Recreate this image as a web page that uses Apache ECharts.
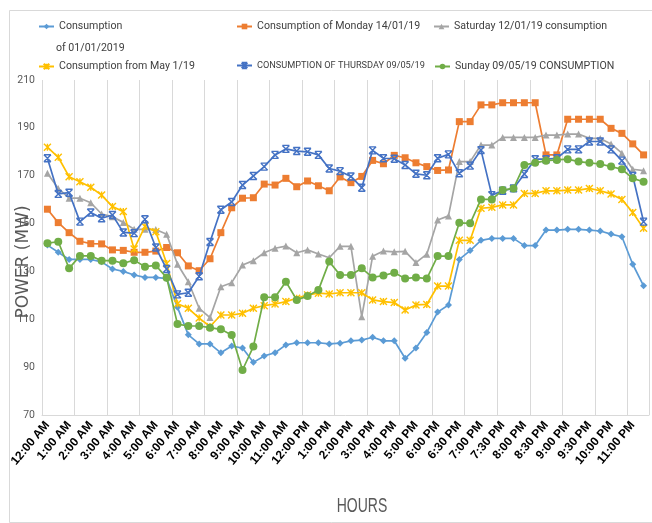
<!DOCTYPE html>
<html>
<head>
<meta charset="utf-8">
<script src="https://cdn.jsdelivr.net/npm/echarts@6/dist/echarts.min.js"></script>
<style>
html,body{margin:0;padding:0;background:#fff;}
#chart{width:652px;height:523px;}
</style>
</head>
<body>
<div id="chart"></div>
<script>
// ---- data ----
const categories = [
  '12:00 AM','12:30 AM','1:00 AM','1:30 AM','2:00 AM','2:30 AM','3:00 AM','3:30 AM',
  '4:00 AM','4:30 AM','5:00 AM','5:30 AM','6:00 AM','6:30 AM','7:00 AM','7:30 AM',
  '8:00 AM','8:30 AM','9:00 AM','9:30 AM','10:00 AM','10:30 AM','11:00 AM','11:30 AM',
  '12:00 PM','12:30 PM','1:00 PM','1:30 PM','2:00 PM','2:30 PM','3:00 PM','3:30 PM',
  '4:00 PM','4:30 PM','5:00 PM','5:30 PM','6:00 PM','6:15 PM','6:30 PM','6:45 PM',
  '7:00 PM','7:15 PM','7:30 PM','7:45 PM','8:00 PM','8:15 PM','8:30 PM','8:45 PM',
  '9:00 PM','9:15 PM','9:30 PM','9:45 PM','10:00 PM','10:30 PM','11:00 PM','11:30 PM'
];
const seriesNames = [
  'Consumption of 01/01/2019',
  'Consumption of Monday 14/01/19',
  'Saturday 12/01/19 consumption',
  'Consumption from May 1/19',
  'CONSUMPTION OF THURSDAY 09/05/19',
  'Sunday 09/05/19 CONSUMPTION'
];
const jan01 = [141,138,135,135,135,134,131,130,128.5,127.5,127.5,127,
  115,103.5,99.7,99.7,96,98.8,98,92,94.7,96,99.3,100.2,
  100.2,100.2,99.7,100,101,101.3,102.5,101,101,93.7,98,104.5,
  113,116,135,138.7,143,143.8,143.8,143.8,140.8,140.8,147.3,147.3,
  147.6,147.6,147.3,146.9,145.6,144.5,133,124];
const mon1401 = [156,150.4,146.2,142.6,141.6,141.5,139,138.8,138,138,138.5,140,
  137.8,132.3,130.3,135.3,146.2,156.6,160.6,160.8,166.5,166.1,168.9,165.4,
  167.8,165.8,163.7,169.5,167.1,169.7,176.4,175,178.5,177.5,175.4,173.8,
  172.2,172.4,192.6,192.6,199.6,199.6,200.5,200.5,200.5,200.5,178.7,178.7,
  193.6,193.6,193.6,193.6,189.8,187.7,183.3,178.7];
const sat1201 = [171,164.7,160.6,160.6,158.7,154,152.9,150.5,147.6,147.6,147.5,145.5,
  133,125.7,114.6,110.7,123.6,125.3,132.7,134.5,137.8,139.7,140.6,137.8,
  139,137.3,135.7,140.5,140.5,111.1,136.3,138.5,138.2,138.4,133.7,137.2,
  151.5,153.2,175.9,175.9,182.8,182.8,186,186,186,186,187,187,
  187.4,187.4,185.6,185.6,183.3,179.4,172.7,172.1];
const may01 = [181.9,177.7,169.6,167.5,165.2,161.9,157.1,155,139.4,148.8,146.6,133.3,
  116.5,114.6,110.5,107,111.8,111.8,112.5,114.6,115.7,116.4,117.4,118.8,
  120.2,120.9,120.6,121.1,121.1,121.1,118.1,117.4,117,113.9,116,116.2,
  123.9,123.9,143,143,156.4,156.8,157.8,157.8,162.6,162.6,163.7,163.7,
  164,164,164.7,163.7,162.4,160.1,154.6,148];
const thu0905 = [177.3,162.4,162.9,150.8,154.6,152.2,153.6,146.3,146,151.8,140,131,
  120.4,121.1,128,142.3,155.8,159,166.1,169.9,173.8,178.7,181.2,180.3,
  180,178.7,173,171.9,169.7,165,180.6,177.3,177.1,174.5,170.8,170.2,
  177.3,178.9,171,174.2,180.7,161.9,163.7,164.7,170.7,176.9,176.9,177.3,
  181,181,184.3,184.3,181,176.3,169.9,150.8];
const sun0905 = [141.8,142.4,131.3,136.5,136.5,134.5,134.5,133.4,134.7,132,132.5,127.4,
  108,107.2,107.2,106.5,105.8,103.4,88.8,98.6,119.2,119.2,125.7,118.1,
  119.7,122.2,134.1,128.5,128.5,131.3,127.5,128.3,129.5,127,127.5,127,
  136.4,136.4,150.3,150.1,160.1,160.1,164,164.7,174.5,175.4,176.3,176.6,
  176.9,175.9,175.4,174.9,173.8,172.7,168.9,167.5];
const yTicks = {min:70, max:210, interval:20};

// ---- styles ----
const colors = ['#5B9BD5','#ED7D31','#A5A5A5','#FFC000','#4472C4','#70AD47'];
const symbols = [
  'diamond','rect','triangle',
  'path://M0,0L10,10M10,0L0,10M5,0L5,10',
  'path://M0,0L10,10M10,0L0,10M0,0L10,0M0,10L10,10',
  'circle'
];
const symSizes = [7,7,7,7,7,8];
const values = [jan01, mon1401, sat1201, may01, thu0905, sun0905];
const legendFont = "Roboto,'Liberation Sans',sans-serif";

const series = values.map((d, i) => ({
  name: seriesNames[i],
  type: 'line',
  data: d,
  symbol: symbols[i],
  symbolSize: symSizes[i],
  showAllSymbol: true,
  lineStyle: {color: colors[i], width: 1.7},
  itemStyle: (i === 3 || i === 4)
    ? {color: colors[i], borderColor: colors[i], borderWidth: 1.4}
    : {color: colors[i], borderWidth: 0},
  emphasis: {disabled: true},
  animation: false,
  z: 2 + i
}));

const legendPos = [
  {left: 38, top: 21},
  {left: 236, top: 21},
  {left: 433, top: 21},
  {left: 38, top: 61},
  {left: 236, top: 61},
  {left: 434, top: 61}
];
const legends = seriesNames.map((n, i) => ({
  data: [n],
  left: legendPos[i].left,
  top: legendPos[i].top,
  padding: 0,
  itemWidth: 15,
  itemHeight: 7,
  formatter: i === 0 ? 'Consumption' : '{name}',
  textStyle: {fontFamily: legendFont, fontSize: i === 4 ? 9.2 : 10.6, color: '#404040'},
  selectedMode: false
}));

const chart = echarts.init(document.getElementById('chart'), null, {renderer: 'canvas'});
chart.setOption({
  backgroundColor: '#fff',
  animation: false,
  legend: legends,
  grid: {left: 42, right: 3, top: 80, bottom: 108, containLabel: false},
  xAxis: {
    type: 'category',
    data: categories,
    boundaryGap: true,
    axisLine: {show: true, lineStyle: {color: '#d9d9d9', width: 1}},
    axisTick: {show: false},
    axisLabel: {
      interval: 1, rotate: 50, margin: 8,
      fontFamily: "'Liberation Sans',sans-serif", fontWeight: 'bold', fontSize: 12, color: '#000'
    },
    splitLine: {show: true, interval: 2, lineStyle: {color: '#d9d9d9', width: 1}}
  },
  yAxis: {
    type: 'value',
    min: yTicks.min, max: yTicks.max, interval: yTicks.interval,
    axisLine: {show: false},
    axisTick: {show: false},
    splitLine: {show: false},
    axisLabel: {fontFamily: legendFont, fontSize: 10.5, color: '#595959', margin: 7}
  },
  graphic: [
    {type: 'rect', left: 7, top: 8, shape: {width: 660, height: 512},
     style: {fill: 'none', stroke: '#d9d9d9', lineWidth: 1}, silent: true, z: -1},
    {type: 'text', x: 56, y: 48,
     style: {text: 'of 01/01/2019', fontFamily: legendFont, fontSize: 10.6, fill: '#404040',
       textAlign: 'left', textVerticalAlign: 'middle'}},
    {type: 'text', x: 24, y: 262, rotation: Math.PI / 2,
     style: {text: 'POWER (MW)', fontFamily: "'DejaVu Sans',sans-serif", fontSize: 17, fill: '#595959',
       textAlign: 'center', textVerticalAlign: 'middle'}},
    {type: 'text', x: 362, y: 506, scaleY: 1.5,
     style: {text: 'HOURS', fontFamily: "'Liberation Sans',sans-serif", fontSize: 14, fill: '#595959',
       textAlign: 'center', textVerticalAlign: 'middle'}}
  ],
  series: series
});
</script>
</body>
</html>
